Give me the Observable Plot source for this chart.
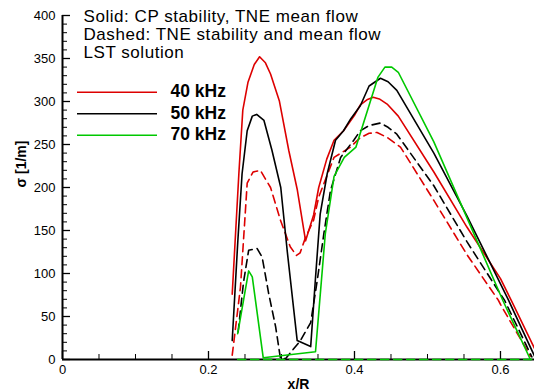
<!DOCTYPE html>
<html><head><meta charset="utf-8">
<script src="https://cdn.jsdelivr.net/npm/d3@7"></script>
<script src="https://cdn.jsdelivr.net/npm/@observablehq/plot@0.6"></script>
<style>
html,body{margin:0;padding:0;background:#fff;}
#chart{width:534px;height:391px;}
</style></head><body><div id="chart"></div>
<script>
// ---- data (x/R, sigma [1/m]) ----
const cp40 = [[0.2325,76],[0.2416,216],[0.2470,290],[0.2540,322],[0.2627,343],[0.2700,352],[0.2780,345],[0.2850,332],[0.2970,301],[0.3100,243],[0.3215,198],[0.3330,138],[0.3440,168],[0.3510,200],[0.3620,233],[0.3720,255],[0.3850,266],[0.4000,284],[0.4080,296],[0.4170,302],[0.4256,305],[0.4340,303],[0.4447,297],[0.4600,283],[0.5087,218],[0.5540,154],[0.6000,94],[0.6146,69],[0.6466,13]];
const cp50 = [[0.2325,22],[0.2402,138],[0.2460,216],[0.2530,266],[0.2600,283],[0.2660,285],[0.2760,278],[0.2870,243],[0.2990,200],[0.3080,125],[0.3215,22],[0.3400,15],[0.3466,95],[0.3530,169],[0.3626,216],[0.3740,255],[0.3850,266],[0.3950,280],[0.4080,295],[0.4200,318],[0.4356,327],[0.4460,323],[0.4580,313],[0.5087,240],[0.5540,167],[0.6000,88],[0.6110,69],[0.6466,4]];
const cp70 = [[0.2400,30],[0.2550,103],[0.2600,96],[0.2750,2],[0.3466,9],[0.3600,146],[0.3720,213],[0.3860,235],[0.4020,247],[0.4180,290],[0.4320,328],[0.4417,340],[0.4510,340],[0.4600,334],[0.5087,253],[0.5540,165],[0.6000,75],[0.6036,68],[0.6410,0]];
const tne40 = [[0.2325,5],[0.2438,84],[0.2530,205],[0.2610,218],[0.2710,220],[0.2850,200],[0.2986,162],[0.3120,131],[0.3205,121],[0.3255,124],[0.3330,142],[0.3440,162],[0.3510,189],[0.3720,235],[0.3945,247],[0.4080,258],[0.4200,263],[0.4310,264],[0.4450,258],[0.4630,247],[0.5087,185],[0.5540,122],[0.5970,69],[0.6000,64],[0.6410,4]];
const tne50 = [[0.2406,32],[0.2480,90],[0.2550,127],[0.2667,129],[0.2735,119],[0.2826,76],[0.2920,38],[0.2986,1],[0.3055,1],[0.3260,22],[0.3400,43],[0.3490,92],[0.3580,146],[0.3670,196],[0.3810,235],[0.3990,255],[0.4080,266],[0.4200,272],[0.4356,275],[0.4460,270],[0.4580,262],[0.5087,202],[0.5540,137],[0.6000,76],[0.6055,69],[0.6430,3]];
const tne70 = [[0.2400,0],[0.6466,0]];

const freqLabels = ["40 kHz","50 kHz","70 kHz"];
const freqColors = ["#dd0000","#000000","#00c800"];
const headerLines = ["Solid: CP stability, TNE mean flow","Dashed: TNE stability and mean flow","LST solution"];
const xTicks = [0, 0.2, 0.4, 0.6];
const xTickLabels = ["0","0.2","0.4","0.6"];
const yTicks = [0,50,100,150,200,250,300,350,400];
const xLabel = "x/R";
const yLabel = "σ [1/m]";

// ---- build table ----
const solidSets = [cp40, cp50, cp70];
const dashSets = [tne40, tne50, tne70];
const toRows = (sets, model) => sets.flatMap((s, i) => s.map(([x, y]) => ({x, y, freq: freqLabels[i], model})));
const solidRows = toRows(solidSets, "CP");
const dashRows = toRows(dashSets, "TNE");

const W = 534, H = 391, mL = 62, mR = 0, mT = 15, mB = 32;
const fw = W - mL - mR, fh = H - mT - mB;
const xMinor = d3.range(0, 0.6467, 0.05).map(v => +v.toFixed(2)).filter(v => !xTicks.includes(v));
const yMinor = d3.range(0, 401, 10).filter(v => v % 50 !== 0);
const font = "'Liberation Sans', Arial, Helvetica, sans-serif";

const colorScale = {domain: freqLabels, range: freqColors};

const plot = Plot.plot({
  width: W, height: H,
  marginLeft: mL, marginRight: mR, marginTop: mT, marginBottom: mB,
  style: {fontFamily: font, background: "#fff", color: "black", overflow: "visible"},
  x: {domain: [0, 0.6466]},
  y: {domain: [0, 400]},
  color: colorScale,
  marks: [
    // inward tick marks
    Plot.ruleY(yMinor, {y: d => d, insetRight: fw - 5, stroke: "black", strokeWidth: 1}),
    Plot.ruleY(yTicks, {y: d => d, insetRight: fw - 8, stroke: "black", strokeWidth: 1.3}),
    Plot.ruleX(xMinor, {x: d => d, insetTop: fh - 5, stroke: "black", strokeWidth: 1}),
    Plot.ruleX(xTicks, {x: d => d, insetTop: fh - 8, stroke: "black", strokeWidth: 1.3}),
    // tick labels
    Plot.axisX({ticks: xTicks, tickSize: 0, tickPadding: 5, tickFormat: d => xTickLabels[xTicks.indexOf(d)], fontSize: 13, label: null}),
    Plot.axisY({ticks: yTicks, tickSize: 0, tickPadding: 7, fontSize: 13, label: null}),
    // axis lines
    Plot.ruleX([0], {stroke: "black", strokeWidth: 2}),
    Plot.ruleY([0], {stroke: "black", strokeWidth: 2}),
    // data
    Plot.line(dashRows, {x: "x", y: "y", z: "freq", stroke: "freq", strokeWidth: 1.6, strokeDasharray: "8,5"}),
    Plot.line(solidRows, {x: "x", y: "y", z: "freq", stroke: "freq", strokeWidth: 1.6}),
    // header text
    Plot.text([headerLines.join("\n")], {frameAnchor: "top-left", textAnchor: "start", lineAnchor: "top", dx: 21, dy: -6, fontSize: 17, lineHeight: 18/17, fill: "black"}),
    // legend
    ...freqLabels.map((lab, i) => Plot.ruleY([400], {y: d => d, insetLeft: 15, insetRight: fw - 95, dy: 76.7 + i * 21.5, stroke: freqColors[i], strokeWidth: 1.6})),
    ...freqLabels.map((lab, i) => Plot.text([lab], {frameAnchor: "top-left", textAnchor: "start", lineAnchor: "middle", dx: 108, dy: 76 + i * 21.5, fontSize: 17.5, fontWeight: "bold", fill: "black"})),
    // axis titles
    Plot.text([xLabel], {frameAnchor: "bottom", lineAnchor: "bottom", dy: 29, fontSize: 14, fontWeight: "bold", fill: "black"}),
    Plot.text([yLabel], {frameAnchor: "left", rotate: -90, dx: -41, fontSize: 14, fontWeight: "bold", fill: "black"})
  ]
});
d3.select(plot).selectAll("text")
  .filter(function() { return this.textContent.startsWith("Solid"); })
  .attr("letter-spacing", "0.55px");
document.getElementById("chart").appendChild(plot);
</script>
</body></html>
